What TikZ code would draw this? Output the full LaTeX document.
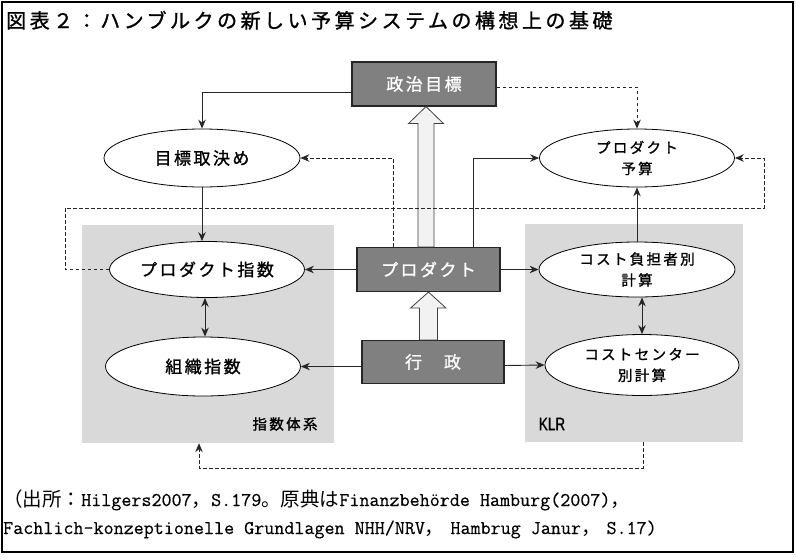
\documentclass[tikz,border=0pt]{standalone}
\usepackage{fontspec}
\usetikzlibrary{shapes.geometric,arrows.meta,calc}
\newfontfamily\jp{Noto Sans CJK JP}
\newfontfamily\jpsp{Noto Sans CJK JP}[LetterSpace=14.5,FakeBold=1.2]
\newfontfamily\jpsm{Noto Sans CJK JP}[LetterSpace=16,FakeBold=1.2]
\newfontfamily\jptitle{Noto Sans CJK JP}[LetterSpace=17.5,FakeBold=1.2]
\newfontfamily\klrfont{Liberation Sans}[FakeStretch=0.75,FakeBold=1]
\newfontfamily\fnlat{Latin Modern Mono}[FakeBold=0.4]
\definecolor{boxgray}{HTML}{808080}
\definecolor{regiongray}{HTML}{D9D9D9}
\definecolor{hollowfill}{HTML}{F2F2F2}
\newcommand\fj[1]{{\jp #1}}
\begin{document}
\begin{tikzpicture}[x=1pt,y=-1pt,
  region/.style={fill=regiongray, draw=none, inner sep=0pt},
  darkbox/.style={rectangle, fill=boxgray, draw=black!85, line width=1.1pt, text=white,
    font=\jpsp\fontsize{17}{20}\selectfont, inner sep=0pt},
  oval/.style={ellipse, draw=black, fill=white, line width=0.8pt, inner sep=0pt,
    font=\jpsp\fontsize{17}{20}\selectfont},
  oval2/.style={oval, align=center, font=\jpsm\fontsize{14.5}{21}\selectfont},
  conn/.style={draw=black!85, line width=0.9pt},
  dconn/.style={conn, dash pattern=on 3.5pt off 2.5pt},
  tip/.style={-{Stealth[length=9pt,width=7.5pt,inset=3pt]}},
  tips/.style={{Stealth[length=9pt,width=7.5pt,inset=3pt]}-{Stealth[length=9pt,width=7.5pt,inset=3pt]}},
  hollow/.style={fill=hollowfill, draw=black!75, line width=0.8pt, line join=miter}
]
\useasboundingbox (0,0) rectangle (796,558);
\draw[line width=1.3pt] (2,2) rectangle (793,552);

% title
\node[anchor=base west, inner sep=0pt, font=\jptitle\fontsize{20}{23}\selectfont] (title) at (6,28)
  {図表２：ハンブルクの新しい予算システムの構想上の基礎};

% grey regions
\node[region, minimum width=252, minimum height=218] (idxreg) at (208,334) {};
\node[region, minimum width=218, minimum height=218] (klrreg) at (634,333) {};
\node[inner sep=0pt, font=\jpsm\fontsize{14.5}{17}\selectfont] (idxlbl) at (285,424) {指数体系};
\node[inner sep=0pt, font=\klrfont\fontsize{18}{20}\selectfont] (klrlbl) at (552,424) {KLR};

% dark boxes
\node[darkbox, minimum width=144, minimum height=44] (pol) at (424,84) {政治目標};
\node[darkbox, minimum width=143, minimum height=44] (prod) at (428.5,269.5) {プロダクト};
\node[darkbox, minimum width=142, minimum height=43] (adm) at (433,362) {行　政};

% ellipses
\node[oval, minimum width=196, minimum height=58] (goal) at (202,158) {目標取決め};
\node[oval, minimum width=195, minimum height=56] (pidx) at (207,269.5) {プロダクト指数};
\node[oval, minimum width=195, minimum height=59] (oidx) at (203,366.5) {組織指数};
\node[oval2, minimum width=195, minimum height=58] (pbud) at (637,158) {プロダクト\\予算};
\node[oval2, minimum width=196, minimum height=55] (ktr) at (637,269.5) {コスト負担者別\\計算};
\node[oval2, minimum width=194, minimum height=61] (kst) at (642,365) {コストセンター\\別計算};

% hollow block arrows
\draw[hollow] ([xshift=2pt]pol.south) -- ++(17.5,17) -- ++(-9.5,0) coordinate (h1a)
  -- (h1a |- prod.north) -- ++(-16,0) coordinate (h1b) -- (h1b |- h1a) -- ++(-9.5,0) -- cycle;
\draw[hollow] (prod.south) -- ++(17.5,16) -- ++(-8.5,0) coordinate (h2a)
  -- (h2a |- adm.north) -- ++(-18,0) coordinate (h2b) -- (h2b |- h2a) -- ++(-9,0) -- cycle;

% solid connectors
\draw[conn,tip] ([yshift=-8pt]pol.west) -| (goal.north);
\draw[conn,tip] (goal.south) -- (goal.south |- pidx.north);
\draw[conn,tip] (prod.west) -- (pidx.east);
\draw[conn,tip] (prod.east) -- (ktr.west);
\draw[conn,tip] ([xshift=44.5pt]prod.north) |- (pbud.west);
\draw[conn,tip] (ktr.north) -- (pbud.south);
\draw[conn,tips] (kst.north |- ktr.south) -- (kst.north);
\draw[conn,tips] ([xshift=-2pt]pidx.south) -- ([xshift=2pt]oidx.north);
\draw[conn,tip] ([yshift=-4.5pt]adm.west) -- (oidx.east);
\draw[conn,tip] ([yshift=-3.5pt]adm.east) -- (kst.west);

% dashed connectors
\draw[dconn,tip] ([yshift=-3pt]pol.east) -| (pbud.north);
\draw[dconn,tip] ([xshift=-35.5pt]prod.north) |- (goal.east);
\coordinate (lpA) at (65,208);
\coordinate (lpB) at (764,158);
\draw[dconn,tip] (pidx.west) -| (lpA) -| (lpB) -- (pbud.east);
\coordinate (bl) at (199,468);
\draw[dconn,tip] ([xshift=9pt]klrreg.south) |- (bl) -- (bl |- idxreg.south);

% footnote
\node[anchor=base west, inner sep=0pt, font=\fnlat\fontsize{19.5}{22}\selectfont] (fn1) at (3,506)
  {\fj{（出所：}Hilgers2007\fj{，}S.179\fj{。原典は}Finanzbeh\"orde Hamburg(2007)\fj{，}};
\node[anchor=base west, inner sep=0pt, font=\fnlat\fontsize{19.5}{22}\selectfont] (fn2) at (3,534)
  {Fachlich-konzeptionelle Grundlagen NHH/NRV\fj{，}\hspace{6pt}Hambrug Janur\fj{，}\hspace{6pt}S.17)};
\end{tikzpicture}
\end{document}
